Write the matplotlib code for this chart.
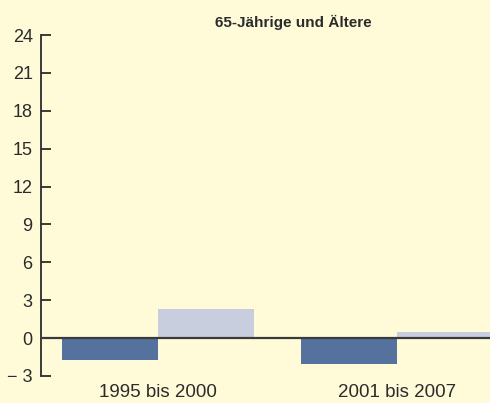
import matplotlib
matplotlib.use("Agg")
import matplotlib.pyplot as plt
import numpy as np

plt.rcParams['font.family'] = ['Liberation Sans', 'DejaVu Sans']

periods = ["1995 bis 2000", "2001 bis 2007"]
series_a = [-1.75, -2.05]
series_b = [2.3, 0.45]
yticks = [-3, 0, 3, 6, 9, 12, 15, 18, 21, 24]
ytick_labels = ["\u2212 3", "0", "3", "6", "9", "12", "15", "18", "21", "24"]

bg = "#fffbd9"
dark = "#55719e"
light = "#c9cedf"
ink = "#2b2b2b"

fig = plt.figure(figsize=(4.9, 4.03), dpi=100, facecolor=bg)
ax = fig.add_axes([41/490, 27/403, 1 - 41/490, (376 - 35)/403])
ax.set_facecolor(bg)

x = np.arange(len(periods))
w = 0.4
ax.bar(x - w/2, series_a, w, color=dark)
ax.bar(x + w/2, series_b, w, color=light)
ax.axhline(0, color="#3a3a3a", lw=1.6, zorder=3)

ax.set_xlim(-0.49, 1.39)
ax.set_ylim(-3, 24)
ax.set_yticks(yticks)
ax.set_yticklabels(ytick_labels)
ax.set_xticks(x)
ax.set_xticklabels(periods)

for s in ["top", "right", "bottom"]:
    ax.spines[s].set_visible(False)
ax.spines["left"].set_color(ink)
ax.spines["left"].set_linewidth(1.3)
ax.tick_params(axis="y", direction="in", length=7, width=1.3, color=ink,
               labelsize=13, labelcolor=ink, pad=6)
ax.tick_params(axis="x", length=0, labelsize=13.5, labelcolor=ink, pad=6)

fig.text(293/490, 1 - 22/403, "65-Jährige und Ältere", ha="center", va="center",
         fontsize=11, fontweight="bold", color=ink)

fig.savefig("out.png", dpi=100, facecolor=bg)
